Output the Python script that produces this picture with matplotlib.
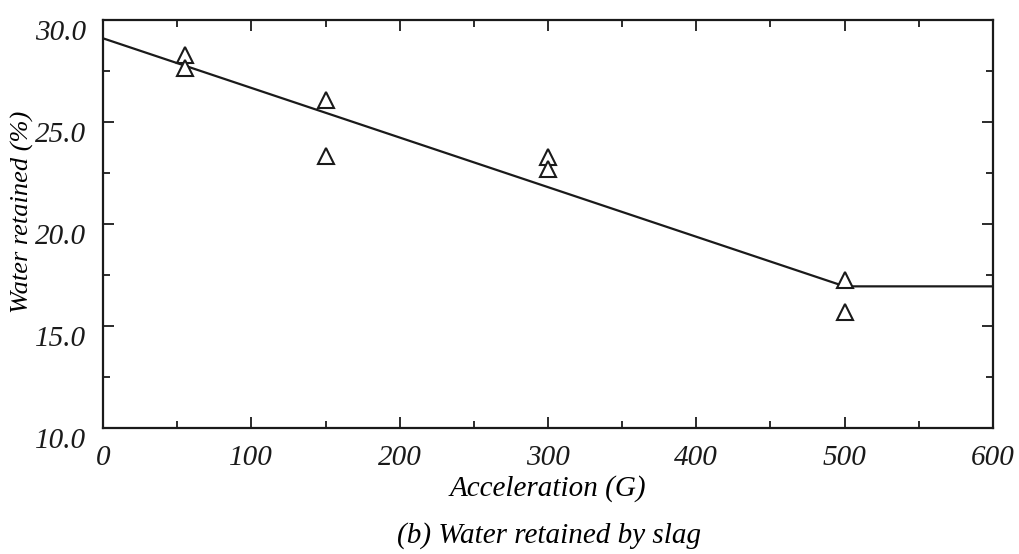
import matplotlib.pyplot as plt
from matplotlib.ticker import MultipleLocator

# measured points (triangles)
accel = [55, 55, 150, 150, 300, 300, 500, 500]
water = [28.3, 27.65, 26.1, 23.35, 23.3, 22.7, 17.25, 15.7]

# fitted line
fit_x = [0, 500, 600]
fit_y = [29.1, 16.95, 16.95]

plt.rcParams['font.family'] = 'Liberation Serif'
plt.rcParams['font.style'] = 'italic'

fig = plt.figure(figsize=(10.2, 5.54), dpi=100)
ax = fig.add_axes([0.101, 0.227, 0.8725, 0.737])

ax.plot(fit_x, fit_y, color='#1a1a1a', lw=1.6)
ax.plot(accel, water, linestyle='none', marker='^', markersize=12,
        markerfacecolor='white', markeredgecolor='#1a1a1a', markeredgewidth=1.5)

ax.set_xlim(0, 600)
ax.set_ylim(10, 30)
ax.xaxis.set_major_locator(MultipleLocator(100))
ax.xaxis.set_minor_locator(MultipleLocator(50))
ax.yaxis.set_major_locator(MultipleLocator(5))
ax.yaxis.set_minor_locator(MultipleLocator(2.5))
ax.set_yticks([10, 15, 20, 25, 30])
ax.set_yticklabels(['10.0', '15.0', '20.0', '25.0', '30.0'])

ax.tick_params(which='both', direction='in', top=True, right=True,
               width=1.3, colors='#1a1a1a', labelsize=21)
ax.tick_params(which='major', length=8)
ax.tick_params(which='minor', length=5)
ax.tick_params(axis='x', pad=12)
ax.tick_params(axis='y', pad=12)
for lab in ax.get_yticklabels():
    lab.set_va('top')
for s in ax.spines.values():
    s.set_linewidth(1.6)
    s.set_color('#1a1a1a')

ax.set_xlabel('Acceleration (G)', fontsize=21, labelpad=3)
fig.text(0.022, 0.617, 'Water retained (%)', fontsize=19, rotation=90,
         ha='center', va='center')
fig.text(0.538, 0.034, '(b) Water retained by slag', fontsize=21,
         ha='center', va='center')

fig.savefig('out.png', dpi=100)
